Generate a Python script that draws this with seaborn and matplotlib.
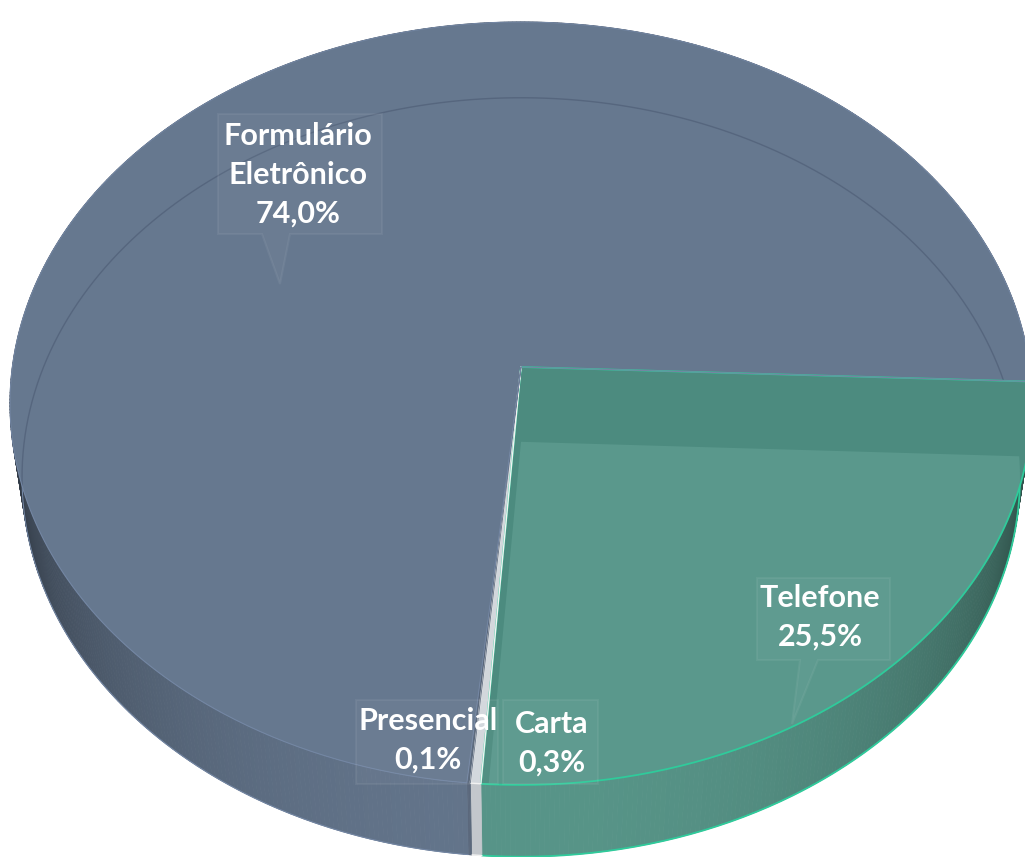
import numpy as np
import matplotlib
matplotlib.use("Agg")
import matplotlib.pyplot as plt
from matplotlib.patches import Polygon
from matplotlib.colors import to_rgb
import seaborn as sns

# ---- data -------------------------------------------------------------
categories = ["Telefone", "Carta", "Presencial", "Formulário\nEletrônico"]
shares = [25.5, 0.3, 0.1, 74.0]

# ---- styling ----------------------------------------------------------
top_colors = ["#4C8B7F", "#D2D7DC", "#58667A", "#66788F"]
wall_colors = ["#5A998C", "#C9CED3", "#5E6C80", "#66788F"]
edge_colors = ["#2FCB9B", "#F2F2F2", "#5E6C80", "#7386A3"]
overlay_green = "#5A988C"

sns.set_theme(style="white")
plt.rcParams["font.family"] = ["Lato", "DejaVu Sans"]

W, H = 1025, 857
fig = plt.figure(figsize=(W / 100, H / 100), dpi=100)
ax = fig.add_axes([0, 0, 1, 1])
ax.set_xlim(0, W)
ax.set_ylim(H, 0)
ax.axis("off")

# ---- perspective camera for the 3-D pie -------------------------------
tilt = np.radians(48)
dist = 7.0
thick = 0.225
cam = np.array([0.0, -dist * np.cos(tilt), dist * np.sin(tilt)])
fwd = -cam / dist
rgt = np.array([1.0, 0.0, 0.0])
upv = np.array([0.0, np.sin(tilt), np.cos(tilt)])


def project(pts):
    p = np.atleast_2d(pts) - cam
    pf = p @ fwd
    return (p @ rgt) / pf, (p @ upv) / pf


ring = np.linspace(0, 2 * np.pi, 721)
rx, _ = project(np.c_[np.cos(ring), np.sin(ring), np.zeros_like(ring)])
scale = 511 / np.abs(rx).max()
origin = np.array([521.0, 367.0])


def to_px(pts):
    xs, ys = project(pts)
    return np.c_[origin[0] + scale * xs, origin[1] - scale * ys]


def arc(a0, a1, z, n):
    t = np.linspace(a0, a1, n)
    return np.c_[np.cos(t), np.sin(t), np.full_like(t, z)]


fractions = np.array(shares) / np.sum(shares)
start = np.radians(-2.2)
bounds = [start]
for f in fractions:
    bounds.append(bounds[-1] - 2 * np.pi * f)


def shade(rgb, th):
    k = 0.40 + 0.57 * max(0.0, -np.sin(th))
    return tuple(np.clip(np.array(rgb) * k, 0, 1))


def n_steps(a0, a1):
    return max(3, int(abs(a1 - a0) / np.radians(0.5)))


# outer walls (drawn first, the top faces cover the far side)
for i, (a0, a1) in enumerate(zip(bounds[:-1], bounds[1:])):
    n = n_steps(a0, a1)
    t = np.linspace(a0, a1, n)
    base = to_rgb(wall_colors[i])
    for j in range(n - 1):
        q = np.array([
            [np.cos(t[j]), np.sin(t[j]), 0],
            [np.cos(t[j + 1]), np.sin(t[j + 1]), 0],
            [np.cos(t[j + 1]), np.sin(t[j + 1]), -thick],
            [np.cos(t[j]), np.sin(t[j]), -thick],
        ])
        c = shade(base, 0.5 * (t[j] + t[j + 1]))
        ax.add_patch(Polygon(to_px(q), closed=True, fc=c, ec=c, lw=0.6, zorder=1))

# top faces
top_patches = []
for i, (a0, a1) in enumerate(zip(bounds[:-1], bounds[1:])):
    pts = np.vstack([[0, 0, 0], arc(a0, a1, 0, n_steps(a0, a1))])
    p = Polygon(to_px(pts), closed=True, fc=top_colors[i], ec="none", zorder=2)
    ax.add_patch(p)
    top_patches.append(p)

# bottom faces seen through the translucent top
tel0, tel1 = bounds[0], bounds[1]
bot = np.vstack([[0, 0, -thick], arc(tel0, tel1, -thick, 200)])
ov = Polygon(to_px(bot), closed=True, fc=overlay_green, ec="none", zorder=3)
ax.add_patch(ov)
ov.set_clip_path(top_patches[0])

frm0, frm1 = bounds[3], bounds[4]
inner = to_px(arc(frm0, frm1, -thick, 600))
ln, = ax.plot(inner[:, 0], inner[:, 1], color="#56667E", lw=1.0, zorder=3)
ln.set_clip_path(top_patches[3])

# slice outlines
for i, (a0, a1) in enumerate(zip(bounds[:-1], bounds[1:])):
    n = n_steps(a0, a1)
    pts = to_px(np.vstack([[0, 0, 0], arc(a0, a1, 0, n), [0, 0, 0]]))
    lw = {0: 1.3, 1: 1.0, 2: 0.6, 3: 0.8}[i]
    ax.plot(pts[:, 0], pts[:, 1], color=edge_colors[i], lw=lw, zorder=4,
            solid_joinstyle="round")
    low = to_px(arc(a0, a1, -thick, n))
    ax.plot(low[:, 0], low[:, 1], color=edge_colors[i], lw=lw, zorder=1.5)

# ---- data labels with faint callout boxes ------------------------------
def fmt(v):
    return f"{v:.1f}".replace(".", ",") + "%"


callouts = {
    "Formulário\nEletrônico": dict(box=[(218, 114), (382, 114), (382, 234), (290, 234),
                                        (280, 284), (262, 234), (218, 234)],
                                   x=298, base=[145, 184, 223]),
    "Telefone": dict(box=[(757, 578), (890, 578), (890, 660), (818, 660),
                          (792, 724), (800, 660), (757, 660)],
                     x=820, base=[607, 646]),
    "Presencial": dict(box=[(356, 700), (498, 700), (498, 784), (356, 784)],
                       x=428, base=[730, 769]),
    "Carta": dict(box=[(503, 700), (598, 700), (598, 784), (503, 784)],
                  x=552, base=[733, 772]),
}

for cat, val in zip(categories, shares):
    c = callouts[cat]
    ax.add_patch(Polygon(c["box"], closed=True, fc=(1, 1, 1, 0.035),
                         ec=(1, 1, 1, 0.06), lw=1.5, zorder=5))
    lines = cat.split("\n") + [fmt(val)]
    for txt, yb in zip(lines, c["base"]):
        ax.text(c["x"], yb, txt, ha="center", va="baseline", color="white",
                fontsize=22, fontweight="bold", zorder=6)

fig.savefig("out.png", dpi=100, facecolor="white")
